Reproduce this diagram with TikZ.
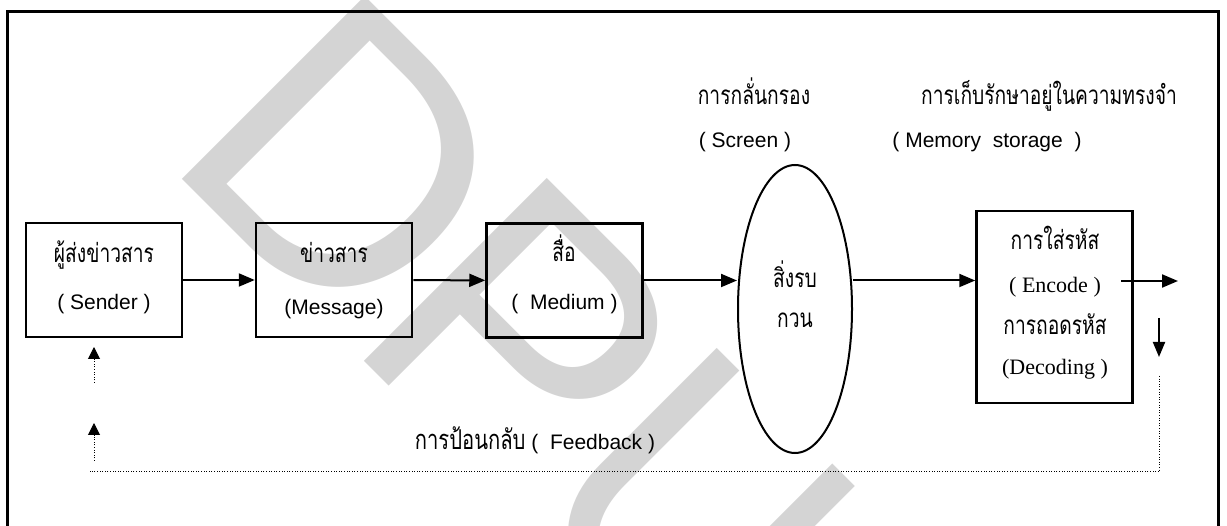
\documentclass[tikz,border=0pt]{standalone}
\usepackage{graphicx}
\usepackage{fontspec}
\setmainfont{Liberation Sans}
\newfontfamily\thai[Script=Thai, Scale=1.3, FakeStretch=0.74]{Loma}
\newfontfamily\serifl{Liberation Serif}
\usetikzlibrary{shapes.geometric,arrows.meta}
\definecolor{wm}{RGB}{212,212,212}
\tikzset{
  box/.style={draw, line width=2.5pt, minimum width=156pt, minimum height=114pt, inner sep=0pt},
  flow/.style={line width=2pt, -{Triangle[length=16pt,width=13pt]}},
  fb/.style={line width=1pt, dash pattern=on 1pt off 1.6pt},
  fbarr/.style={fb, -{Triangle[length=12pt,width=12pt]}},
  lbl/.style={anchor=base, inner sep=0pt, font=\fontsize{21}{25}\selectfont},
  thl/.style={anchor=base, inner sep=0pt, font=\fontsize{20}{24}\selectfont\thai},
  serl/.style={anchor=base, inner sep=0pt, font=\fontsize{22}{26}\selectfont\serifl},
}
\begin{document}
\begin{tikzpicture}[x=1pt,y=-1pt]
\useasboundingbox (0,0) rectangle (1227,526);
\begin{scope}
  \clip (0,0) rectangle (1227,526);
  % diagonal watermark behind everything
  \node[rotate=-45, anchor=base west, inner sep=0pt, text=wm,
        font=\fontsize{376}{376}\selectfont] (mark) at (160.5,157.5)
        {D\kern-14pt P\kern-6pt\scalebox{0.915}[1]{U}};
  % outer frame
  \draw[line width=3pt] (7,12) rectangle (1218,560);
\end{scope}

% blocks of the model
\node[box] (sender)  at (104,280)   {};
\node[box] (message) at (334,280)   {};
\node[box] (medium)  at (564.5,280.5) {};
\node[draw, ellipse, line width=2pt, minimum width=114pt, minimum height=288pt, inner sep=0pt] (screen) at (795,309) {};
\node[box, minimum height=192pt] (codec) at (1054.5,307) {};

% block texts
\node[thl] (senderTh) at (104,263) {ผู้ส่งข่าวสาร};
\node[lbl] (senderEn) at (104,310) {( Sender )};
\node[thl] (messageTh) at (334,263) {ข่าวสาร};
\node[lbl] (messageEn) at (334,315) {(Message)};
\node[thl] (mediumTh) at (564,262) {สื่อ};
\node[lbl] (mediumEn) at (564.5,310) {(\ \ Medium )};
\node[thl] (noiseA) at (795,288) {สิ่งรบ};
\node[thl] (noiseB) at (795,328) {กวน};
\node[thl] (encTh) at (1055,250) {การใส่รหัส};
\node[serl] (encEn) at (1055,293) {( Encode )};
\node[thl] (decTh) at (1055,335) {การถอดรหัส};
\node[serl] (decEn) at (1055,375) {(Decoding )};

% headings above
\node[thl] (screenTh) at (754,105) {การกลั่นกรอง};
\node[lbl] (screenEn) at (745,148) {( Screen )};
\node[thl] (memTh) at (1049,105) {การเก็บรักษาอยู่ในความทรงจำ};
\node[lbl] (memEn) at (987,148) {( Memory\ \ storage\ \ )};

% feedback caption
\node[lbl] (fbText) at (535,450) {{\thai การป้อนกลับ} (\ \ Feedback )};

% forward flow
\draw[flow] (sender) -- (message);
\draw[flow] (message) -- (medium);
\draw[flow] (medium.east) -- (medium.east -| screen.west);
\draw[flow] (screen.east |- medium.east) -- (codec.west |- medium.east);
\coordinate (outA) at (1121,281);
\coordinate (outB) at (1178,281);
\draw[flow] (outA) -- (outB);
\coordinate (dnA) at (1159,318);
\coordinate (dnB) at (1159,357);
\draw[line width=2pt, -{Triangle[length=15pt,width=12pt]}] (dnA) -- (dnB);

% feedback loop
\coordinate (fbTop) at (1159,376);
\coordinate (fbCorner) at (1159,472);
\coordinate (fbEnd) at (90,472);
\draw[fb] (fbTop) -- (fbCorner) -- (fbEnd);
\coordinate (upLowA) at (94,461);
\coordinate (upLowB) at (94,423);
\draw[fbarr] (upLowA) -- (upLowB);
\coordinate (upHighA) at (94,383);
\coordinate (upHighB) at (94,347);
\draw[fbarr] (upHighA) -- (upHighB);
\end{tikzpicture}
\end{document}
